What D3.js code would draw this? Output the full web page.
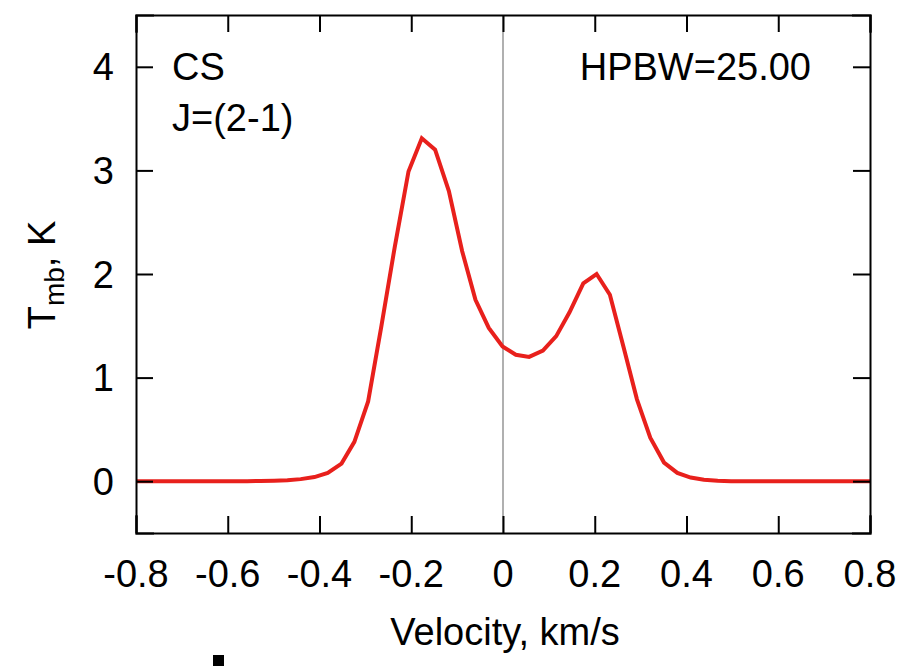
<!DOCTYPE html>
<html>
<head>
<meta charset="utf-8">
<script src="https://cdn.jsdelivr.net/npm/d3@7"></script>
<style>
  html, body { margin: 0; padding: 0; background: #fff; }
  svg { display: block; }
  text { font-family: "Liberation Sans", Arial, Helvetica, sans-serif; fill: #000; }
</style>
</head>
<body>
<svg id="chart" width="917" height="666"></svg>
<script>
// ---- data ----
const velocity = [-0.8, -0.558, -0.529, -0.499, -0.470, -0.441, -0.411, -0.382, -0.352, -0.324,
  -0.294, -0.265, -0.236, -0.206, -0.177, -0.148, -0.118, -0.089, -0.060, -0.031,
  -0.001, 0.028, 0.057, 0.087, 0.116, 0.145, 0.175, 0.204, 0.233, 0.263,
  0.292, 0.321, 0.351, 0.380, 0.409, 0.438, 0.468, 0.497, 0.8];
const tmb = [0, 0, 0.002, 0.005, 0.01, 0.02, 0.04, 0.08, 0.17, 0.38,
  0.77, 1.50, 2.26, 2.99, 3.31, 3.20, 2.80, 2.22, 1.75, 1.48,
  1.30, 1.22, 1.20, 1.26, 1.40, 1.63, 1.91, 2.00, 1.80, 1.29,
  0.79, 0.42, 0.18, 0.08, 0.035, 0.015, 0.005, 0, 0];
const xTicks = [-0.8, -0.6, -0.4, -0.2, 0, 0.2, 0.4, 0.6, 0.8];
const xTickLabels = ["-0.8", "-0.6", "-0.4", "-0.2", "0", "0.2", "0.4", "0.6", "0.8"];
const yTicks = [0, 1, 2, 3, 4];
const yTickLabels = ["0", "1", "2", "3", "4"];
const xDomain = [-0.8, 0.8];
const yDomain = [-0.5, 4.5];
const moleculeLabel = "CS";
const transitionLabel = "J=(2-1)";
const beamLabel = "HPBW=25.00";
const xTitle = "Velocity, km/s";

// ---- layout ----
const svg = d3.select("#chart");
const L = 136, T = 15, W = 734, H = 518;
const x = d3.scaleLinear().domain(xDomain).range([L, L + W]);
const y = d3.scaleLinear().domain(yDomain).range([T + H, T]);
const tickLen = 17;
const fs = 38;

// zero velocity line
svg.append("line")
  .attr("x1", x(0)).attr("x2", x(0))
  .attr("y1", y(yDomain[0])).attr("y2", y(yDomain[1]))
  .attr("stroke", "#b0b0b0").attr("stroke-width", 2);

// spectrum
const line = d3.line().x((d, i) => x(velocity[i])).y(d => y(d));
svg.append("path")
  .datum(tmb)
  .attr("d", line)
  .attr("fill", "none")
  .attr("stroke", "#e8201c")
  .attr("stroke-width", 4)
  .attr("stroke-linejoin", "miter");

// axes (ticks inward on all four sides)
const axB = d3.axisBottom(x).tickValues(xTicks).tickSize(-tickLen).tickFormat("");
const axT = d3.axisTop(x).tickValues(xTicks).tickSize(-tickLen).tickFormat("");
const axL = d3.axisLeft(y).tickValues(yTicks).tickSize(-tickLen).tickFormat("");
const axR = d3.axisRight(y).tickValues(yTicks).tickSize(-tickLen).tickFormat("");
function styleAxis(g) {
  g.selectAll("path").attr("stroke", "#000").attr("stroke-width", 2);
  g.selectAll("line").attr("stroke", "#000").attr("stroke-width", 2);
}
svg.append("g").attr("transform", `translate(0,${T + H})`).call(axB).call(styleAxis);
svg.append("g").attr("transform", `translate(0,${T})`).call(axT).call(styleAxis);
svg.append("g").attr("transform", `translate(${L},0)`).call(axL).call(styleAxis);
svg.append("g").attr("transform", `translate(${L + W},0)`).call(axR).call(styleAxis);
svg.selectAll(".domain").attr("stroke-linecap", "square");

// tick labels
svg.append("g").selectAll("text").data(xTicks).join("text")
  .attr("x", d => x(d)).attr("y", 587)
  .attr("text-anchor", "middle").attr("font-size", fs)
  .text((d, i) => xTickLabels[i]);
svg.append("g").selectAll("text").data(yTicks).join("text")
  .attr("x", 114).attr("y", d => y(d)).attr("dy", "0.36em")
  .attr("text-anchor", "end").attr("font-size", fs)
  .text((d, i) => yTickLabels[i]);

// axis titles
svg.append("text").attr("x", 505).attr("y", 645)
  .attr("text-anchor", "middle").attr("font-size", fs).text(xTitle);
const yt = svg.append("text")
  .attr("transform", "translate(55,275) rotate(-90)")
  .attr("text-anchor", "middle").attr("font-size", fs);
yt.append("tspan").text("T");
yt.append("tspan").attr("font-size", 28).attr("dy", 9).text("mb");
yt.append("tspan").attr("dy", -9).text(", K");

// annotations
svg.append("text").attr("x", 172).attr("y", 80).attr("font-size", fs).text(moleculeLabel);
svg.append("text").attr("x", 172).attr("y", 131).attr("font-size", fs).text(transitionLabel);
svg.append("text").attr("x", 811).attr("y", 80).attr("text-anchor", "end").attr("font-size", fs).text(beamLabel);

// small mark at bottom (present in the reference)
svg.append("rect").attr("x", 213).attr("y", 655).attr("width", 11).attr("height", 11).attr("fill", "#000");
</script>
</body>
</html>
